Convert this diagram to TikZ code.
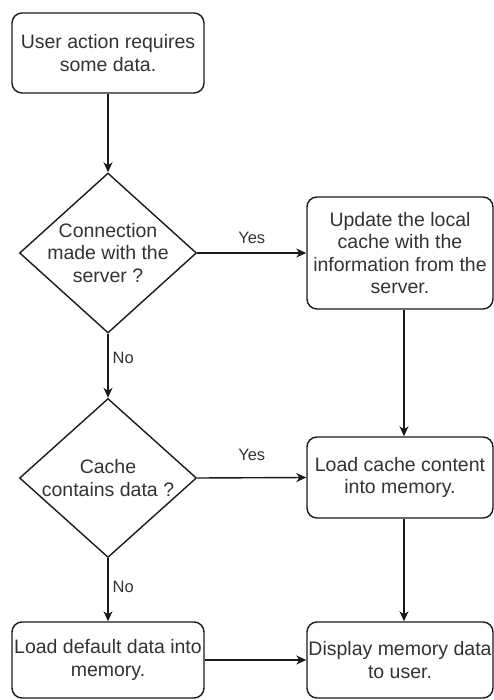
\documentclass[tikz,border=0pt]{standalone}
\usepackage{fontspec}
\setmainfont{Liberation Sans}
\usetikzlibrary{shapes.geometric,arrows.meta}
\definecolor{ink}{HTML}{1A1A1A}
\definecolor{txtgray}{HTML}{333333}
\begin{document}
\begin{tikzpicture}[x=1pt,y=-1pt,
  every node/.style={text=txtgray},
  stepbox/.style={draw=ink,line width=1.4pt,rounded corners=10pt,fill=white,
    align=center,inner sep=0pt,font=\fontsize{19.5}{22.5}\selectfont},
  decision/.style={draw=ink,line width=1.4pt,diamond,inner sep=0pt},
  qtext/.style={align=center,inner sep=0pt,font=\fontsize{19.5}{22.5}\selectfont},
  elabel/.style={inner sep=0pt,font=\fontsize{16.5}{19}\selectfont},
  flow/.style={draw=ink,line width=1.4pt,-{Stealth[length=10pt,width=9pt,inset=3pt]}}]
\useasboundingbox (0,0) rectangle (494,700);

% process boxes
\node[stepbox,minimum width=192pt,minimum height=80pt] (start) at (108,53)
  {User action requires\\some data.};
\node[stepbox,minimum width=186pt,minimum height=112pt] (update) at (400,253)
  {Update the local\\cache with the\\information from the\\server.};
\node[stepbox,minimum width=186pt,minimum height=81pt] (loadcache) at (400,477.5)
  {Load cache content\\into memory.};
\node[stepbox,minimum width=192pt,minimum height=76pt] (loaddefault) at (108,660)
  {Load default data into\\memory.};
\node[stepbox,minimum width=186pt,minimum height=76pt] (display) at (400,660)
  {Display memory data\\to user.};

% decisions
\node[decision,minimum width=177pt,minimum height=160pt] (conn) at (108,253) {};
\node[qtext] (conntext) at (conn.center) {Connection\\made with the\\server ?};
\node[decision,minimum width=177pt,minimum height=159pt] (cache) at (108,478) {};
\node[qtext] (cachetext) at (cache.center) {Cache\\contains data ?};

% connectors
\draw[flow] (start.south) -- (conn.north);
\draw[flow] (conn.east) -- node[elabel,above=9pt] (yes1) {Yes} (update.west);
\draw[flow] (conn.south) -- node[elabel,right=4pt,pos=0.38] (no1) {No} (cache.north);
\draw[flow] ([xshift=4pt]update.south) -- ([xshift=4pt]loadcache.north);
\draw[flow] (cache.east) -- node[elabel,above=16pt] (yes2) {Yes} (loadcache.west);
\draw[flow] (cache.south) -- node[elabel,right=4pt,pos=0.45] (no2) {No} (loaddefault.north);
\draw[flow] ([xshift=4pt]loadcache.south) -- ([xshift=4pt]display.north);
\draw[flow] (loaddefault.east) -- (display.west);
\end{tikzpicture}
\end{document}
